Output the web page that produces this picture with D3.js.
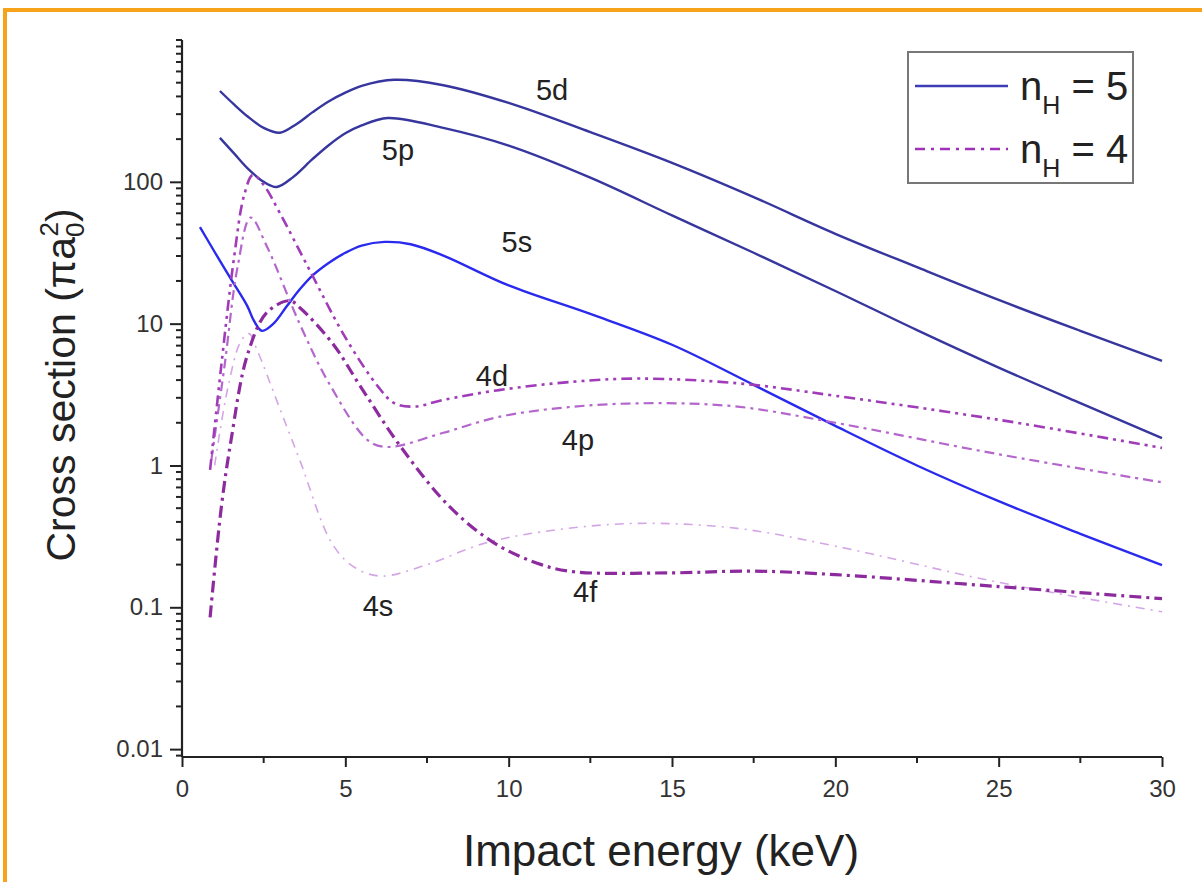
<!DOCTYPE html>
<html>
<head>
<meta charset="utf-8">
<script src="https://cdn.jsdelivr.net/npm/d3@7"></script>
<style>
  body { margin: 0; background: #fff; }
  svg { display: block; font-family: "Liberation Sans", Arial, sans-serif; }
</style>
</head>
<body>
<svg width="1202" height="882"></svg>
<script>
const margin = { left: 182, right: 40, top: 40, bottom: 125 };
const width = 1202, height = 882;

// energies (keV) and cross sections (pi a0^2)
const e5d = [1.16, 1.6, 2.0, 2.5, 3.0, 3.5, 4.0, 4.5, 5.0, 5.5, 6.5, 8.0, 10, 12.5, 15, 17.5, 20, 22.5, 25, 27.5, 30];
const v5d = [437, 350, 290, 240, 222, 255, 310, 370, 425, 475, 524, 480, 360, 224, 136, 78, 43, 25, 14.7, 8.9, 5.46];

const e5p = [1.16, 1.6, 2.0, 2.5, 2.9, 3.4, 4.0, 4.5, 5.0, 5.5, 6.3, 8.0, 10, 12.5, 15, 17.5, 20, 22.5, 25, 27.5, 30];
const v5p = [204, 158, 125, 100, 92, 108, 145, 182, 220, 250, 282, 240, 180, 107, 58, 31.6, 17, 9, 4.9, 2.75, 1.56];

const e5s = [0.55, 1.0, 1.5, 2.0, 2.2, 2.45, 2.8, 3.2, 3.6, 4.0, 4.5, 5.0, 5.5, 6.2, 7.0, 8.0, 10, 12.5, 15, 17.5, 20, 22.5, 25, 27.5, 30];
const v5s = [48, 32, 20.6, 13.3, 10.5, 8.9, 10, 13.2, 17.4, 21.9, 26.9, 31.6, 35.5, 37.7, 36.3, 30.2, 18.6, 11.7, 7.1, 3.7, 1.9, 1.0, 0.56, 0.33, 0.198];

const e4d = [0.86, 1.2, 1.6, 1.9, 2.17, 2.5, 3.0, 3.9, 5.0, 6.0, 6.5, 7.1, 8.0, 9.7, 12, 14, 17, 20, 25, 30];
const v4d = [0.93, 5, 30, 80, 112, 95, 60, 24, 8, 3.6, 2.75, 2.6, 2.9, 3.4, 3.9, 4.1, 3.8, 3.1, 2.1, 1.33];

const e4p = [0.9, 1.3, 1.7, 2.1, 2.6, 3.6, 4.5, 5.7, 6.3, 8.0, 9.7, 12, 14.5, 17, 20, 25, 30];
const v4p = [1.1, 5, 25, 56, 35, 10, 3.8, 1.5, 1.35, 1.7, 2.2, 2.6, 2.75, 2.6, 2.0, 1.2, 0.76];

const e4f = [0.86, 1.2, 1.5, 2.0, 2.6, 3.3, 3.6, 4.6, 5.5, 6.7, 8.2, 9.6, 11, 12, 15, 17.5, 20, 25, 30];
const v4f = [0.085, 0.5, 1.5, 6, 12, 14.5, 13, 7.3, 3.5, 1.35, 0.51, 0.28, 0.2, 0.178, 0.175, 0.18, 0.17, 0.14, 0.115];

const e4s = [1.0, 1.4, 1.8, 2.05, 2.3, 3.0, 3.6, 4.6, 5.3, 6.1, 7.5, 9.2, 11, 13.8, 17, 20, 25, 30];
const v4s = [1.0, 3.5, 7.5, 8.5, 6.5, 2.5, 1.1, 0.28, 0.19, 0.166, 0.2, 0.28, 0.34, 0.39, 0.36, 0.27, 0.15, 0.093];

// curve label positions (keV, cross section)
const labelNames = ["5d", "5p", "5s", "4d", "4p", "4s", "4f"];
const labelE = [11.33, 6.61, 10.25, 9.49, 12.12, 6.0, 12.34];
const labelV = [380, 143, 32, 3.63, 1.29, 0.0865, 0.109];

const xTicks = [0, 5, 10, 15, 20, 25, 30];
const xMinorTicks = [2.5, 7.5, 12.5, 17.5, 22.5, 27.5];
const yTicks = [0.01, 0.1, 1, 10, 100];
const yTickLabels = ["0.01", "0.1", "1", "10", "100"];

const svg = d3.select("svg").attr("viewBox", [0, 0, width, height]);

// orange frame
svg.append("path")
  .attr("d", "M5,882 V10 H1202")
  .attr("fill", "none")
  .attr("stroke", "#f7a21b")
  .attr("stroke-width", 4);

const x_scale = d3.scaleLinear().domain([0, 30]).range([margin.left, width - margin.right]);
const y_scale = d3.scaleLog().domain([0.0088, 1000]).range([height - margin.bottom, margin.top]);

// minor log ticks 2..9 per decade
const yMinorTicks = [];
for (let k = -3; k <= 2; k++) {
  for (let m = 2; m <= 9; m++) {
    const v = m * Math.pow(10, k);
    if (v >= 0.0088 && v <= 1000) yMinorTicks.push(v);
  }
}
yMinorTicks.push(1000);

const x_axis = d3.axisBottom(x_scale).tickValues(xTicks).tickSize(10).tickPadding(13).tickFormat(d3.format("d"));
const y_axis = d3.axisLeft(y_scale).tickValues(yTicks).tickSize(12).tickPadding(7)
  .tickFormat((d, i) => yTickLabels[i]);

const gx = svg.append("g")
  .attr("transform", `translate(0,${height - margin.bottom})`)
  .call(x_axis);
gx.selectAll("line.minor")
  .data(xMinorTicks)
  .enter().append("line")
  .attr("class", "minor")
  .attr("x1", d => x_scale(d)).attr("x2", d => x_scale(d))
  .attr("y1", 0).attr("y2", 6)
  .attr("stroke", "#222").attr("stroke-width", 2);

const gy = svg.append("g")
  .attr("transform", `translate(${margin.left},0)`)
  .call(y_axis);
gy.selectAll("line.minor")
  .data(yMinorTicks)
  .enter().append("line")
  .attr("class", "minor")
  .attr("x1", -6).attr("x2", 0)
  .attr("y1", d => y_scale(d)).attr("y2", d => y_scale(d))
  .attr("stroke", "#222").attr("stroke-width", 2);

[gx, gy].forEach(g => {
  g.select(".domain").attr("stroke", "#222").attr("stroke-width", 2.2);
  g.selectAll(".tick line").attr("stroke", "#222").attr("stroke-width", 2);
  g.selectAll("text").attr("fill", "#333").style("font-size", "24px")
    .style("font-family", "'Liberation Sans', Arial, sans-serif");
});
// plain domain lines (no outer ticks)
gx.select(".domain").attr("d", `M${x_scale(0)},0H${x_scale(30)}`);
gy.select(".domain").attr("d", `M0,${y_scale(1000)}V${y_scale(0.0088)}`);

// axis titles
svg.append("text")
  .attr("x", 661)
  .attr("y", 866)
  .attr("text-anchor", "middle")
  .attr("fill", "#222")
  .style("font-size", "44px")
  .text("Impact energy (keV)");

const yl = svg.append("text")
  .attr("transform", "translate(75,385) rotate(-90)")
  .attr("text-anchor", "middle")
  .attr("fill", "#222")
  .style("font-size", "41px");
yl.append("tspan").text("Cross section (\u03c0a");
yl.append("tspan").attr("dy", 9).style("font-size", "26px").text("0");
yl.append("tspan").attr("dx", -14).attr("dy", -26).style("font-size", "26px").text("2");
yl.append("tspan").attr("dy", 17).text(")");

// curves
const line_generator = d3.line()
  .x(d => x_scale(d[0]))
  .y(d => y_scale(d[1]))
  .curve(d3.curveCatmullRom.alpha(0.5));

const series = [
  { e: e5d, v: v5d, color: "#36369e", w: 2.4, dash: null },
  { e: e5p, v: v5p, color: "#36369e", w: 2.4, dash: null },
  { e: e5s, v: v5s, color: "#2a2aee", w: 2.4, dash: null },
  { e: e4s, v: v4s, color: "#d4a6e6", w: 1.6, dash: "9,6,2,6" },
  { e: e4p, v: v4p, color: "#b466cc", w: 2.2, dash: "10,5,3,5" },
  { e: e4d, v: v4d, color: "#a03cb8", w: 2.6, dash: "11,5,3,5,3,5" },
  { e: e4f, v: v4f, color: "#8c2a9e", w: 3.2, dash: "12,5,3,5" }
];

svg.append("g")
  .selectAll("path")
  .data(series)
  .join("path")
  .attr("fill", "none")
  .attr("stroke", d => d.color)
  .attr("stroke-width", d => d.w)
  .attr("stroke-dasharray", d => d.dash)
  .attr("d", d => line_generator(d.e.map((e, i) => [e, d.v[i]])));

// curve labels
svg.append("g")
  .selectAll("text")
  .data(labelNames)
  .join("text")
  .attr("x", (d, i) => x_scale(labelE[i]))
  .attr("y", (d, i) => y_scale(labelV[i]))
  .attr("text-anchor", "middle")
  .attr("fill", "#222")
  .style("font-size", "29px")
  .text(d => d);

// legend
const legend = svg.append("g").attr("transform", "translate(908,52)");
legend.append("rect")
  .attr("width", 225).attr("height", 131)
  .attr("fill", "#fff")
  .attr("stroke", "#777").attr("stroke-width", 2);

const legendItems = [
  { n: "5", color: "#3c3cb8", dash: null, w: 2.4 },
  { n: "4", color: "#a030b8", dash: "10,6,3,6", w: 2.6 }
];
legendItems.forEach((d, i) => {
  const y = 34 + i * 63;
  legend.append("line")
    .attr("x1", 7).attr("x2", 100).attr("y1", y).attr("y2", y)
    .attr("stroke", d.color).attr("stroke-width", d.w)
    .attr("stroke-dasharray", d.dash);
  const t = legend.append("text")
    .attr("x", 112).attr("y", y + 14)
    .attr("fill", "#222")
    .style("font-size", "40px");
  t.append("tspan").text("n");
  t.append("tspan").attr("dy", 14).style("font-size", "25px").text("H");
  t.append("tspan").attr("dy", -14).text(" = " + d.n);
});
</script>
</body>
</html>
